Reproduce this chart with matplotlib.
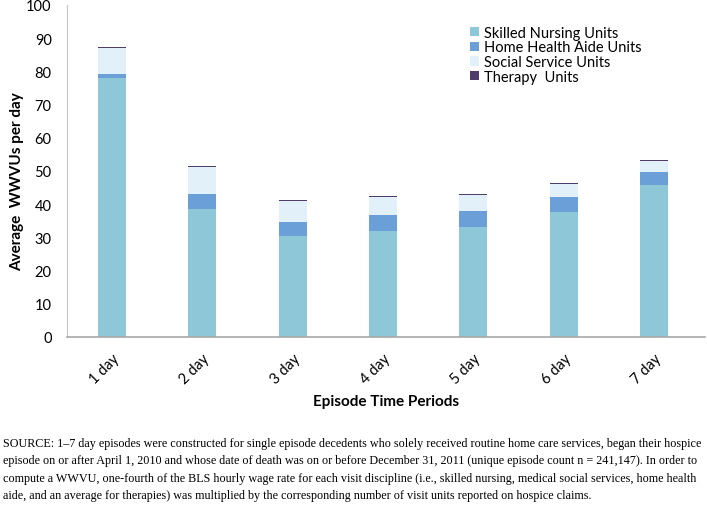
import matplotlib.pyplot as plt
import numpy as np

periods = ['1 day', '2 day', '3 day', '4 day', '5 day', '6 day', '7 day']
skilled = [78.1, 38.7, 30.3, 32.0, 33.2, 37.8, 45.8]
home_health = [1.1, 4.4, 4.4, 4.7, 4.8, 4.5, 4.0]
social = [7.9, 8.1, 6.2, 5.6, 4.9, 3.7, 3.1]
therapy = [0.3, 0.3, 0.3, 0.3, 0.3, 0.3, 0.3]

colors = ['#8EC7D7', '#6A9FD7', '#E2F1F9', '#4E3D6A']
labels = ['Skilled Nursing Units', 'Home Health Aide Units',
          'Social Service Units', 'Therapy  Units']

plt.rcParams['font.family'] = ['Lato', 'DejaVu Sans']

fig = plt.figure(figsize=(7.07, 5.06), dpi=100)
ax = fig.add_axes([67 / 707, 168 / 506, 638 / 707, 332 / 506])

x = np.arange(len(periods))
w = 0.31
bottom = np.zeros(len(periods))
for vals, c, lab in zip([skilled, home_health, social, therapy], colors, labels):
    ax.bar(x, vals, w, bottom=bottom, color=c, label=lab)
    bottom += np.array(vals)

ax.set_xlim(-0.5, 6.565)
ax.set_ylim(0, 100)
ax.set_yticks(range(0, 101, 10))
ax.set_xticks(x)
ax.set_xticklabels(periods, rotation=45, ha='right', rotation_mode='anchor')
ax.tick_params(axis='both', length=0, labelsize=10.5)
ax.tick_params(axis='x', pad=10)
ax.tick_params(axis='y', pad=11)
for s in ['top', 'right']:
    ax.spines[s].set_visible(False)
ax.spines['bottom'].set_color('#A8A8A8')
ax.spines['bottom'].set_linewidth(1.2)
ax.spines['left'].set_color('#C4C4C4')
ax.spines['left'].set_linewidth(0.8)

ax.set_ylabel('Average  WWVUs per day', fontsize=11, fontweight='bold')
ax.yaxis.set_label_coords((24 - 67) / 638, 0.47)
ax.set_xlabel('Episode Time Periods', fontsize=11, fontweight='bold', labelpad=6)

ax.legend(loc='upper left', bbox_to_anchor=(0.62, 0.96), frameon=False,
          fontsize=10.5, handlelength=0.6, handleheight=0.6, handletextpad=0.4,
          labelspacing=0.05, borderpad=0)

caption = [
    'SOURCE: 1\u20137 day episodes were constructed for single episode decedents who solely received routine home care services, began their hospice',
    'episode on or after April 1, 2010 and whose date of death was on or before December 31, 2011 (unique episode count n = 241,147). In order to',
    'compute a WWVU, one-fourth of the BLS hourly wage rate for each visit discipline (i.e., skilled nursing, medical social services, home health',
    'aide, and an average for therapies) was multiplied by the corresponding number of visit units reported on hospice claims.',
]
for i, line in enumerate(caption):
    fig.text(0.004, 1 - (444 + i * 17.5) / 506, line, fontsize=8.75,
             family='Liberation Serif', va='center', ha='left')

fig.savefig('out.png', dpi=100)
